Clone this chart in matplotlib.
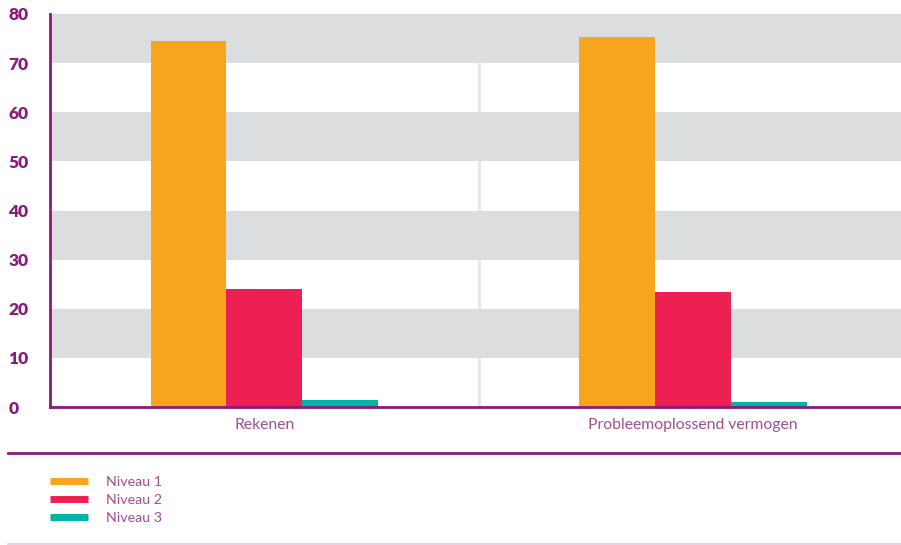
import matplotlib
matplotlib.use("Agg")
import matplotlib.pyplot as plt
from matplotlib.lines import Line2D
import numpy as np

categories = ["Rekenen", "Probleemoplossend vermogen"]
series_names = ["Niveau 1", "Niveau 2", "Niveau 3"]
niveau1 = [74.5, 75.4]
niveau2 = [24.0, 23.4]
niveau3 = [1.4, 1.1]
yticks = [0, 10, 20, 30, 40, 50, 60, 70, 80]

colors = ["#F7A51E", "#EC2052", "#00B5A5"]
purple = "#8B1A7A"
label_purple = "#A24C94"
band_gray = "#DCDDDF"

plt.rcParams['font.family'] = ['Lato', 'DejaVu Sans']

fig = plt.figure(figsize=(9.01, 5.45), dpi=100)
W, H = 901, 545
ax = fig.add_axes([50 / W, (H - 407) / H, (907.5 - 50) / W, (407 - 14) / H])

# alternating grey bands
for lo in [10, 30, 50, 70]:
    ax.axhspan(lo, lo + 10, color=band_gray, lw=0, zorder=0.5)
# light separator between the groups
ax.axvline(0.5, color="#E6E6E6", lw=2, zorder=0.2)

x = np.arange(len(categories))
w = 0.177
for i, vals in enumerate([niveau1, niveau2, niveau3]):
    ax.bar(x + (i - 1) * w, vals, w, color=colors[i], zorder=2, linewidth=0)

ax.set_xlim(-0.5, 1.5)
ax.set_ylim(0, 80)
ax.set_yticks(yticks)
ax.set_xticks(x)
ax.set_xticklabels(categories, color=label_purple, fontsize=11.3)
ax.tick_params(axis="x", length=0, pad=8)
ax.tick_params(axis="y", length=0, pad=30)
for t in ax.get_yticklabels():
    t.set_horizontalalignment("left")
    t.set_fontweight("heavy")
    t.set_fontsize(12.5)
    t.set_color(purple)

for s in ["top", "right"]:
    ax.spines[s].set_visible(False)
for s in ["left", "bottom"]:
    ax.spines[s].set_color(purple)
    ax.spines[s].set_linewidth(2)
ax.spines["left"].set_zorder(3)
ax.spines["bottom"].set_zorder(3)

# horizontal rules around the legend
fig.add_artist(Line2D([8 / W, 1], [1 - 453 / H] * 2, color=purple, lw=2))
fig.add_artist(Line2D([8 / W, 1], [1 - 544 / H] * 2, color="#EAD3E6", lw=1.5))

handles = [Line2D([], [], color=c, lw=5, solid_capstyle="butt") for c in colors]
leg = fig.legend(handles, series_names, loc="upper left",
                 bbox_to_anchor=(44 / W, 1 - 470 / H), frameon=False,
                 fontsize=10.3, handlelength=2.65, handletextpad=1.3,
                 labelspacing=0.42, borderaxespad=0)
for t in leg.get_texts():
    t.set_color(label_purple)

fig.savefig("out.png", dpi=100)
